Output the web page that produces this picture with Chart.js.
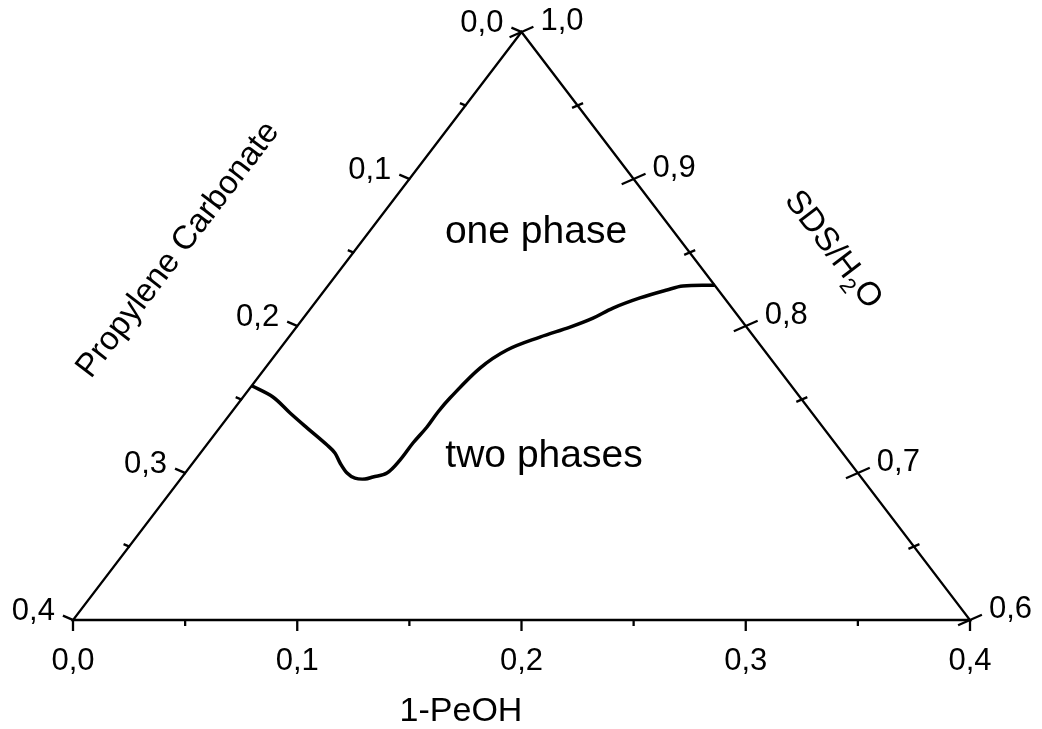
<!DOCTYPE html>
<html>
<head>
<meta charset="utf-8">
<script src="https://cdn.jsdelivr.net/npm/chart.js@4.4.1/dist/chart.umd.min.js"></script>
<style>
html,body{margin:0;padding:0;background:#fff;}
#wrap{position:relative;width:1042px;height:729px;}
</style>
</head>
<body>
<div id="wrap"><canvas id="c"></canvas></div>
<script>
// Phase boundary: mass fractions of 1-PeOH and Propylene Carbonate (SDS/H2O = 1 - both)
const peohFraction = [0.000, 0.0133, 0.0264, 0.0390, 0.0538, 0.0600, 0.0657, 0.0722, 0.0775, 0.0823, 0.0851, 0.0900, 0.0914, 0.0914, 0.0922, 0.0920, 0.0926, 0.0958, 0.1017, 0.1120, 0.1220, 0.1292, 0.1347, 0.1433, 0.1526, 0.1584, 0.1723];
const pcFraction   = [0.2406, 0.2350, 0.2328, 0.2303, 0.2272, 0.2264, 0.2275, 0.2278, 0.2260, 0.2218, 0.2176, 0.2100, 0.1998, 0.1882, 0.1765, 0.1665, 0.1564, 0.1328, 0.1146, 0.0955, 0.0787, 0.0654, 0.0531, 0.0376, 0.0229, 0.0144, 0.000];

// Axis ticks
const bottomTickValues = [0.0, 0.1, 0.2, 0.3, 0.4];
const bottomTickLabels = ['0,0', '0,1', '0,2', '0,3', '0,4'];
const leftTickValues   = [0.0, 0.1, 0.2, 0.3, 0.4];
const leftTickLabels   = ['0,0', '0,1', '0,2', '0,3', '0,4'];
const rightTickValues  = [1.0, 0.9, 0.8, 0.7, 0.6];
const rightTickLabels  = ['1,0', '0,9', '0,8', '0,7', '0,6'];
const minorTickValues  = [0.05, 0.15, 0.25, 0.35];

const axisTitles = { bottom: '1-PeOH', left: 'Propylene Carbonate', right: 'SDS/H', rightSub: '2', rightEnd: 'O' };
const regionLabels = ['one phase', 'two phases'];

// ternary (PeOH, PC) -> cartesian plot coordinates
function toXY(pe, pc) { return { x: 0.2 + (pe - pc) / 2, y: 0.4 - pe - pc }; }
const boundary = peohFraction.map((pe, i) => toXY(pe, pcFraction[i]));

const FONT = '"Liberation Sans", Arial, sans-serif';

const ternaryPlugin = {
  id: 'ternary',
  afterDatasetsDraw(chart) {
    const ctx = chart.ctx;
    const xs = chart.scales.x, ys = chart.scales.y;
    const P = (pe, pc) => { const p = toXY(pe, pc); return { x: xs.getPixelForValue(p.x), y: ys.getPixelForValue(p.y) }; };
    ctx.save();
    ctx.strokeStyle = '#000';
    ctx.fillStyle = '#000';
    ctx.lineCap = 'butt';
    // triangle
    const A = P(0, 0), B = P(0, 0.4), C = P(0.4, 0);
    ctx.lineWidth = 2.3;
    ctx.beginPath();
    ctx.moveTo(A.x, A.y); ctx.lineTo(B.x, B.y); ctx.lineTo(C.x, C.y); ctx.closePath();
    ctx.stroke();

    const bot = (v) => P(v, 0.4 - v);
    ctx.lineWidth = 2.3;
    const drawTick = (p, dx, dy, lenOut, lenIn) => {
      ctx.beginPath();
      ctx.moveTo(p.x - dx * lenIn, p.y - dy * lenIn);
      ctx.lineTo(p.x + dx * lenOut, p.y + dy * lenOut);
      ctx.stroke();
    };
    ctx.font = '31px ' + FONT;
    ctx.textAlign = 'center'; ctx.textBaseline = 'middle';
    bottomTickValues.forEach((v, i) => {
      const p = bot(v);
      drawTick(p, 0, 1, 11, 0);
      ctx.fillText(bottomTickLabels[i], p.x, p.y + 41);
    });
    minorTickValues.forEach(v => drawTick(bot(v), 0, 1, 6, 0));

    // left axis (Propylene Carbonate, PeOH = 0)
    const ldx = -0.917, ldy = -0.40;
    ctx.textAlign = 'right';
    leftTickValues.forEach((v, i) => {
      const p = P(0, v);
      drawTick(p, ldx, ldy, 11, 1);
      ctx.fillText(leftTickLabels[i], p.x + ldx * 11 - 8, p.y + ldy * 11 - 4);
    });
    minorTickValues.forEach(v => drawTick(P(0, v), ldx, ldy, 6, 1));

    // right axis (SDS/H2O, PC = 0)
    const rdx = 0.917, rdy = -0.40;
    ctx.textAlign = 'left';
    rightTickValues.forEach((s, i) => {
      const p = P(1 - s, 0);
      drawTick(p, rdx, rdy, 13, 13);
      ctx.fillText(rightTickLabels[i], p.x + rdx * 13 + 7, p.y + rdy * 13 - 5);
    });
    minorTickValues.forEach(v => drawTick(P(v, 0), rdx, rdy, 6, 6));

    // axis titles
    ctx.font = '34px ' + FONT;
    ctx.textAlign = 'center';
    ctx.fillText(axisTitles.bottom, 461, 712);

    const angL = Math.atan2(B.y - A.y, B.x - A.x) + Math.PI;
    ctx.save();
    ctx.translate(178, 250);
    ctx.rotate(angL);
    ctx.font = '33px ' + FONT;
    ctx.fillText(axisTitles.left, 0, 0);
    ctx.restore();

    const angR = Math.atan2(C.y - A.y, C.x - A.x);
    ctx.save();
    ctx.translate(833, 250);
    ctx.rotate(angR);
    ctx.textAlign = 'left';
    const mainFont = '33px ' + FONT, subFont = '22px ' + FONT;
    ctx.font = mainFont; const w1 = ctx.measureText(axisTitles.right).width;
    const w3 = ctx.measureText(axisTitles.rightEnd).width;
    ctx.font = subFont; const w2 = ctx.measureText(axisTitles.rightSub).width;
    let x0 = -(w1 + w2 + w3) / 2;
    ctx.font = mainFont; ctx.fillText(axisTitles.right, x0, 0);
    ctx.font = subFont; ctx.fillText(axisTitles.rightSub, x0 + w1, 11);
    ctx.font = mainFont; ctx.fillText(axisTitles.rightEnd, x0 + w1 + w2, 0);
    ctx.restore();

    // region labels
    ctx.font = '39px ' + FONT;
    ctx.textAlign = 'center';
    ctx.fillText(regionLabels[0], 536, 232);
    ctx.fillText(regionLabels[1], 544, 456);
    ctx.restore();
  }
};

new Chart(document.getElementById('c'), {
  type: 'scatter',
  data: {
    datasets: [{
      data: boundary,
      showLine: true,
      borderColor: '#000',
      borderWidth: 3.5,
      pointRadius: 0,
      tension: 0.35,
      fill: false
    }]
  },
  options: {
    responsive: true,
    maintainAspectRatio: false,
    animation: false,
    layout: { padding: { left: 73, right: 72, top: 32, bottom: 109 } },
    scales: {
      x: { type: 'linear', min: 0, max: 0.4, display: false },
      y: { type: 'linear', min: 0, max: 0.4, display: false }
    },
    plugins: { legend: { display: false }, tooltip: { enabled: false } }
  },
  plugins: [ternaryPlugin]
});
</script>
</body>
</html>
